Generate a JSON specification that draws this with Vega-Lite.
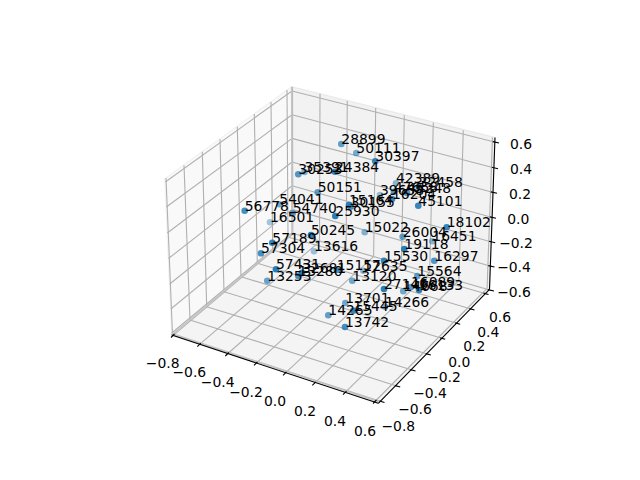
{"$schema":"https://vega.github.io/schema/vega-lite/v6.json","width":640,"height":480,"padding":0,"autosize":{"type":"none"},"background":"white","config":{"view":{"stroke":null},"font":"DejaVu Sans"},
"datasets":{
"panes":[
{"pane":"a","i":0,"x":171.7,"y":335},{"pane":"a","i":1,"x":292,"y":234},{"pane":"a","i":2,"x":291.7,"y":86.7},{"pane":"a","i":3,"x":164.7,"y":178.7},{"pane":"a","i":4,"x":171.7,"y":335}],
"paneb":[{"pane":"b","i":0,"x":292,"y":234},{"pane":"b","i":1,"x":489.5,"y":289.3},{"pane":"b","i":2,"x":495,"y":137.5},{"pane":"b","i":3,"x":291.7,"y":86.7},{"pane":"b","i":4,"x":292,"y":234}],
"panec":[{"pane":"c","i":0,"x":171.7,"y":335},{"pane":"c","i":1,"x":292,"y":234},{"pane":"c","i":2,"x":489.5,"y":289.3},{"pane":"c","i":3,"x":378.3,"y":403.3},{"pane":"c","i":4,"x":171.7,"y":335}],
"grid":[
{"x":173,"y":335.6,"x2":292.8,"y2":234.2},{"x":292.8,"x2":292.5,"y":234.2,"y2":86.9},
{"x":199.3,"y":344.6,"x2":319.5,"y2":241.6},{"x":319.5,"x2":320,"y":241.6,"y2":93.7},
{"x":227.3,"y":354,"x2":346.1,"y2":249.1},{"x":346.1,"x2":347.3,"y":249.1,"y2":100.7},
{"x":256,"y":363.4,"x2":373.6,"y2":256.7},{"x":373.6,"x2":375.7,"y":256.7,"y2":107.9},
{"x":285,"y":373.3,"x2":401.4,"y2":264.5},{"x":401.4,"x2":404.3,"y":264.5,"y2":115.2},
{"x":314.3,"y":383.3,"x2":429.7,"y2":272.3},{"x":429.7,"x2":433.3,"y":272.3,"y2":122.5},
{"x":345,"y":392.7,"x2":458.9,"y2":280.5},{"x":458.9,"x2":463.3,"y":280.5,"y2":130.2},
{"x":375,"y":401.5,"x2":487.1,"y2":288.3},{"x":487.1,"x2":492.5,"y":288.3,"y2":137.5},
{"x":172.5,"y":334.4,"x2":381,"y2":401.5},{"x":172.5,"x2":166,"y":334.4,"y2":178},
{"x":190,"y":320,"x2":396.7,"y2":386},{"x":190,"x2":184,"y":320,"y2":165.3},
{"x":206.7,"y":306.7,"x2":412,"y2":370},{"x":206.7,"x2":202.3,"y":306.7,"y2":151.7},
{"x":224,"y":291.7,"x2":427.3,"y2":354},{"x":224,"x2":220,"y":291.7,"y2":139.3},
{"x":241,"y":276.7,"x2":441.7,"y2":338.3},{"x":241,"x2":237.3,"y":276.7,"y2":126.7},
{"x":257.3,"y":263.3,"x2":456.7,"y2":323.3},{"x":257.3,"x2":254.3,"y":263.3,"y2":114},
{"x":272.7,"y":250,"x2":471,"y2":309},{"x":272.7,"x2":271,"y":250,"y2":102},
{"x":288,"y":237,"x2":485,"y2":293.5},{"x":288,"x2":287,"y":237,"y2":90},
{"x":165.3,"y":182,"x2":292,"y2":91},{"x":292,"x2":494.5,"y":91,"y2":142},
{"x":166.3,"y":207,"x2":292,"y2":114.7},{"x":292,"x2":493.5,"y":114.7,"y2":167.7},
{"x":167.3,"y":233,"x2":292,"y2":138.4},{"x":292,"x2":492.5,"y":138.4,"y2":192.3},
{"x":168.5,"y":258.5,"x2":292,"y2":162},{"x":292,"x2":491.5,"y":162,"y2":217.3},
{"x":169.7,"y":284,"x2":292,"y2":185.7},{"x":292,"x2":490.7,"y":185.7,"y2":241.7},
{"x":170.8,"y":309,"x2":292,"y2":209.4},{"x":292,"x2":490,"y":209.4,"y2":266},
{"x":171.7,"y":333,"x2":292,"y2":233},{"x":292,"x2":489.5,"y":233,"y2":290}],
"edges":[{"x":171.7,"y":335,"x2":292,"y2":234},{"x":292,"y":234,"x2":291.7,"y2":86.7},{"x":171.7,"y":333.5,"x2":378.3,"y2":401.5}],
"axes":[{"x":171.7,"y":335,"x2":378.3,"y2":403.3},{"x":378.3,"y":403.3,"x2":489.5,"y2":289.3},{"x":489.5,"y":289.3,"x2":495,"y2":137.5}],
"ticks":[
{"x":174.5,"y":334,"x2":171,"y2":337.5},{"x":200.8,"y":343.1,"x2":197.3,"y2":346.6},{"x":228.8,"y":352.5,"x2":225.3,"y2":356},{"x":257.5,"y":361.9,"x2":254,"y2":365.4},{"x":286.5,"y":371.8,"x2":283,"y2":375.3},{"x":315.8,"y":381.8,"x2":312.3,"y2":385.3},{"x":346.5,"y":391.2,"x2":343,"y2":394.7},{"x":376.5,"y":400,"x2":373,"y2":403.5},
{"x":379.5,"y":401,"x2":384.5,"y2":402.5},{"x":395.2,"y":385.6,"x2":400.2,"y2":387},{"x":410.5,"y":369.6,"x2":415.5,"y2":371},{"x":425.8,"y":353.6,"x2":430.8,"y2":355},{"x":440.2,"y":337.9,"x2":445.2,"y2":339.3},{"x":455.2,"y":322.9,"x2":460.2,"y2":324.3},{"x":469.5,"y":308.6,"x2":474.5,"y2":310},{"x":483.5,"y":293.1,"x2":488.5,"y2":294.5},
{"x":492.8,"y":141.6,"x2":499,"y2":143},{"x":491.8,"y":167.3,"x2":498,"y2":168.7},{"x":490.8,"y":191.9,"x2":497,"y2":193.3},{"x":489.8,"y":216.9,"x2":496,"y2":218.3},{"x":489,"y":241.3,"x2":495.2,"y2":242.7},{"x":488.3,"y":265.6,"x2":494.5,"y2":267},{"x":487.8,"y":289.6,"x2":494,"y2":291}],
"ticklabels":[
{"t":"−0.8","x":162.7,"y":364},{"t":"−0.6","x":189.3,"y":373.3},{"t":"−0.4","x":217.7,"y":383.3},{"t":"−0.2","x":246,"y":392.7},{"t":"0.0","x":275,"y":402.3},{"t":"0.2","x":305,"y":412.3},{"t":"0.4","x":335,"y":422.3},{"t":"0.6","x":365,"y":432},
{"t":"−0.8","x":398.3,"y":426.7},{"t":"−0.6","x":415,"y":410},{"t":"−0.4","x":430,"y":394},{"t":"−0.2","x":444,"y":378.3},{"t":"0.0","x":459.3,"y":363.3},{"t":"0.2","x":474.3,"y":347.3},{"t":"0.4","x":488.3,"y":332.7},{"t":"0.6","x":500,"y":318.3},
{"t":"0.6","x":521,"y":145},{"t":"0.4","x":521,"y":170},{"t":"0.2","x":520,"y":195},{"t":"0.0","x":518.3,"y":220},{"t":"−0.2","x":516,"y":244.3},{"t":"−0.4","x":514,"y":268.3},{"t":"−0.6","x":514,"y":292.7}],
"points":[
{"id":"28899","x":341.3,"y":144,"depth":0.6},{"id":"50111","x":356.3,"y":153,"depth":0.45},{"id":"30397","x":375.3,"y":161.3,"depth":0.9},{"id":"35391","x":304.5,"y":172,"depth":0.4},{"id":"30253","x":298.3,"y":174.3,"depth":0.7},{"id":"24384","x":335,"y":171.7,"depth":0.9},{"id":"50151","x":317.7,"y":192.3,"depth":0.6},{"id":"54041","x":279.3,"y":204.3,"depth":0.5},{"id":"56778","x":244.7,"y":210.7,"depth":0.8},{"id":"54740","x":292.7,"y":213.3,"depth":0.6},{"id":"16501","x":270,"y":222.3,"depth":0.15},{"id":"25930","x":335.3,"y":216,"depth":1},{"id":"30155","x":350.7,"y":206.7,"depth":0.8},{"id":"15164","x":349,"y":205,"depth":1},{"id":"42389","x":396,"y":183.3,"depth":0.3},{"id":"32458","x":418.7,"y":186.7,"depth":0.7},{"id":"39658","x":380,"y":195,"depth":0.2},{"id":"47658","x":394,"y":191.7,"depth":0.7},{"id":"45248","x":407,"y":193,"depth":0.7},{"id":"16204","x":392,"y":199,"depth":0.9},{"id":"45101","x":418.3,"y":205.7,"depth":0.9},{"id":"15022","x":364.7,"y":232.3,"depth":0.35},{"id":"18102","x":446.7,"y":227.3,"depth":0.9},{"id":"26004","x":402.7,"y":236.7,"depth":0.6},{"id":"16451","x":432.3,"y":241.3,"depth":0.3},{"id":"19118","x":404.3,"y":249,"depth":1},{"id":"50245","x":311,"y":235,"depth":1},{"id":"13616","x":314,"y":251.3,"depth":0.2},{"id":"57189","x":272.3,"y":242.7,"depth":0.9},{"id":"57304","x":261,"y":253.3,"depth":0.8},{"id":"57431","x":276,"y":269.3,"depth":1},{"id":"13253","x":267.3,"y":280.7,"depth":0.55},{"id":"32681","x":302,"y":272.7,"depth":1},{"id":"13280","x":298.3,"y":276,"depth":0.8},{"id":"15157","x":336.7,"y":270,"depth":0.8},{"id":"12635","x":363.3,"y":270.7,"depth":0.3},{"id":"15530","x":384,"y":260.7,"depth":0.9},{"id":"16297","x":434.3,"y":260.7,"depth":0.7},{"id":"15564","x":417.3,"y":276,"depth":0.6},{"id":"13120","x":352.3,"y":280.7,"depth":0.5},{"id":"27146","x":384,"y":289,"depth":1},{"id":"14668","x":403.3,"y":291.3,"depth":0.5},{"id":"16133","x":419,"y":290,"depth":1},{"id":"16089","x":411,"y":287,"depth":0.6},{"id":"13701","x":345.3,"y":303,"depth":0.5},{"id":"15445","x":353.3,"y":310.7,"depth":0.9},{"id":"14265","x":328.3,"y":315.3,"depth":0.6},{"id":"13742","x":345,"y":327,"depth":0.8},{"id":"14266","x":385,"y":306.7,"depth":0.4}]
},
"encoding":{
"x":{"field":"x","type":"quantitative","scale":{"domain":[0,640],"nice":false,"zero":false},"axis":null},
"y":{"field":"y","type":"quantitative","scale":{"domain":[480,0],"nice":false,"zero":false},"axis":null}},
"layer":[
{"data":{"name":"panes"},"mark":{"type":"line","fill":"#f9f9f9","stroke":"#f1f1f1","strokeWidth":1.1,"clip":false},"encoding":{"order":{"field":"i"}}},
{"data":{"name":"paneb"},"mark":{"type":"line","fill":"#f2f2f2","stroke":"#e9e9e9","strokeWidth":1.1},"encoding":{"order":{"field":"i"}}},
{"data":{"name":"panec"},"mark":{"type":"line","fill":"#f4f4f4","stroke":"#ededed","strokeWidth":1.1},"encoding":{"order":{"field":"i"}}},
{"data":{"name":"grid"},"mark":{"type":"rule","stroke":"#b0b0b0","strokeWidth":1.1},"encoding":{"x2":{"field":"x2"},"y2":{"field":"y2"}}},
{"data":{"name":"edges"},"mark":{"type":"rule","stroke":"#c4c4c4","strokeWidth":1.6},"encoding":{"x2":{"field":"x2"},"y2":{"field":"y2"}}},
{"data":{"name":"axes"},"mark":{"type":"rule","stroke":"#000000","strokeWidth":1.1},"encoding":{"x2":{"field":"x2"},"y2":{"field":"y2"}}},
{"data":{"name":"ticks"},"mark":{"type":"rule","stroke":"#000000","strokeWidth":1.1},"encoding":{"x2":{"field":"x2"},"y2":{"field":"y2"}}},
{"data":{"name":"ticklabels"},"mark":{"type":"text","font":"DejaVu Sans","fontSize":13.9,"align":"center","baseline":"middle","color":"#000000"},"encoding":{"text":{"field":"t"}}},
{"data":{"name":"points"},"mark":{"type":"circle","size":44,"color":"#1f77b4"},"encoding":{"opacity":{"field":"depth","type":"quantitative","scale":{"domain":[0,1],"range":[0.3,0.95]},"legend":null}}},
{"data":{"name":"points"},"mark":{"type":"text","font":"DejaVu Sans","fontSize":13.9,"align":"left","baseline":"alphabetic","color":"#000000"},"encoding":{"text":{"field":"id"}}}
]}
